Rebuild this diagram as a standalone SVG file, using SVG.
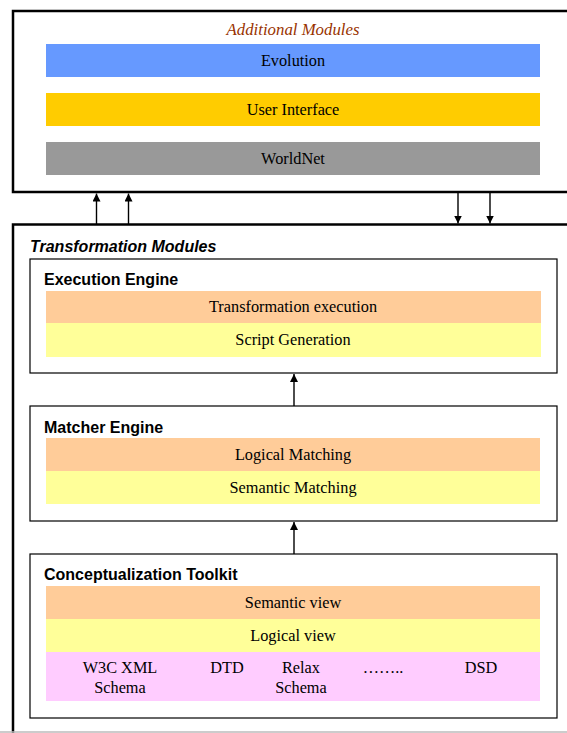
<svg xmlns="http://www.w3.org/2000/svg" width="567" height="733" viewBox="0 0 567 733">
<style>
.frame{fill:#fff;stroke:#000;stroke-width:2.5}
.box{fill:#fff;stroke:#000;stroke-width:1.2}
.lbl{font-family:"Liberation Serif",serif;font-size:16.3px;fill:#000;text-anchor:middle}
.hdr{font-family:"Liberation Sans",Arial,sans-serif;font-size:16px;font-weight:bold;fill:#000}
.conn{stroke:#000;stroke-width:1.4;fill:none}
</style>
<defs>
<marker id="ah" viewBox="0 0 10 10" refX="10" refY="5" markerWidth="8" markerHeight="8" markerUnits="userSpaceOnUse" orient="auto">
<path d="M0,0 L10,5 L0,10 z" fill="#000"/>
</marker>
</defs>
<rect width="567" height="733" fill="#fff"/>
<g id="additional-modules">
<rect class="frame" x="13" y="11" width="580" height="181"/>
<text x="293" y="35" font-family="Liberation Serif,serif" font-size="16.8" font-style="italic" fill="#993300" text-anchor="middle">Additional Modules</text>
<g id="evolution"><rect x="46" y="44" width="494" height="33" fill="#6699FF"/><text class="lbl" x="293" y="66">Evolution</text></g>
<g id="user-interface"><rect x="46" y="93" width="494" height="33" fill="#FFCC00"/><text class="lbl" x="293" y="115">User Interface</text></g>
<g id="worldnet"><rect x="46" y="142" width="494" height="33" fill="#999999"/><text class="lbl" x="293" y="164">WorldNet</text></g>
</g>
<g id="transformation-modules">
<rect class="frame" x="13" y="224.5" width="580" height="540"/>
<line x1="0" y1="732" x2="567" y2="732" stroke="#bbb" stroke-width="1.5"/>
<text x="30" y="252" font-family="Liberation Sans,Arial,sans-serif" font-size="16" font-weight="bold" font-style="italic" fill="#000">Transformation Modules</text>
</g>
<g id="execution-engine">
<rect class="box" x="30" y="259" width="527" height="114"/>
<text class="hdr" x="44" y="285">Execution Engine</text>
<rect x="46" y="291" width="495" height="32" fill="#FFCC99"/>
<text class="lbl" x="293" y="312">Transformation execution</text>
<rect x="46" y="323" width="495" height="34" fill="#FFFF99"/>
<text class="lbl" x="293" y="345">Script Generation</text>
</g>
<g id="matcher-engine">
<rect class="box" x="30" y="406" width="527" height="115"/>
<text class="hdr" x="44" y="433">Matcher Engine</text>
<rect x="46" y="438" width="494" height="33" fill="#FFCC99"/>
<text class="lbl" x="293" y="460">Logical Matching</text>
<rect x="46" y="471" width="494" height="33" fill="#FFFF99"/>
<text class="lbl" x="293" y="493">Semantic Matching</text>
</g>
<g id="conceptualization-toolkit">
<rect class="box" x="30" y="554" width="527" height="164"/>
<text class="hdr" x="44" y="580">Conceptualization Toolkit</text>
<rect x="46" y="586" width="494" height="33" fill="#FFCC99"/>
<text class="lbl" x="293" y="608">Semantic view</text>
<rect x="46" y="619" width="494" height="33" fill="#FFFF99"/>
<text class="lbl" x="293" y="641">Logical view</text>
<rect x="46" y="652" width="494" height="49" fill="#FFCCFF"/>
<text class="lbl" x="120" y="673">W3C XML</text>
<text class="lbl" x="120" y="693">Schema</text>
<text class="lbl" x="227" y="673">DTD</text>
<text class="lbl" x="301" y="673">Relax</text>
<text class="lbl" x="301" y="693">Schema</text>
<text class="lbl" x="383" y="673">……..</text>
<text class="lbl" x="481" y="673">DSD</text>
</g>
<g id="connectors">
<line class="conn" x1="96.5" y1="224" x2="96.5" y2="193.5" marker-end="url(#ah)"/>
<line class="conn" x1="128.5" y1="224" x2="128.5" y2="193.5" marker-end="url(#ah)"/>
<line class="conn" x1="458" y1="193" x2="458" y2="223.5" marker-end="url(#ah)"/>
<line class="conn" x1="490" y1="193" x2="490" y2="223.5" marker-end="url(#ah)"/>
<line class="conn" x1="294" y1="406" x2="294" y2="374" marker-end="url(#ah)"/>
<line class="conn" x1="294" y1="554" x2="294" y2="522" marker-end="url(#ah)"/>
</g>
</svg>
